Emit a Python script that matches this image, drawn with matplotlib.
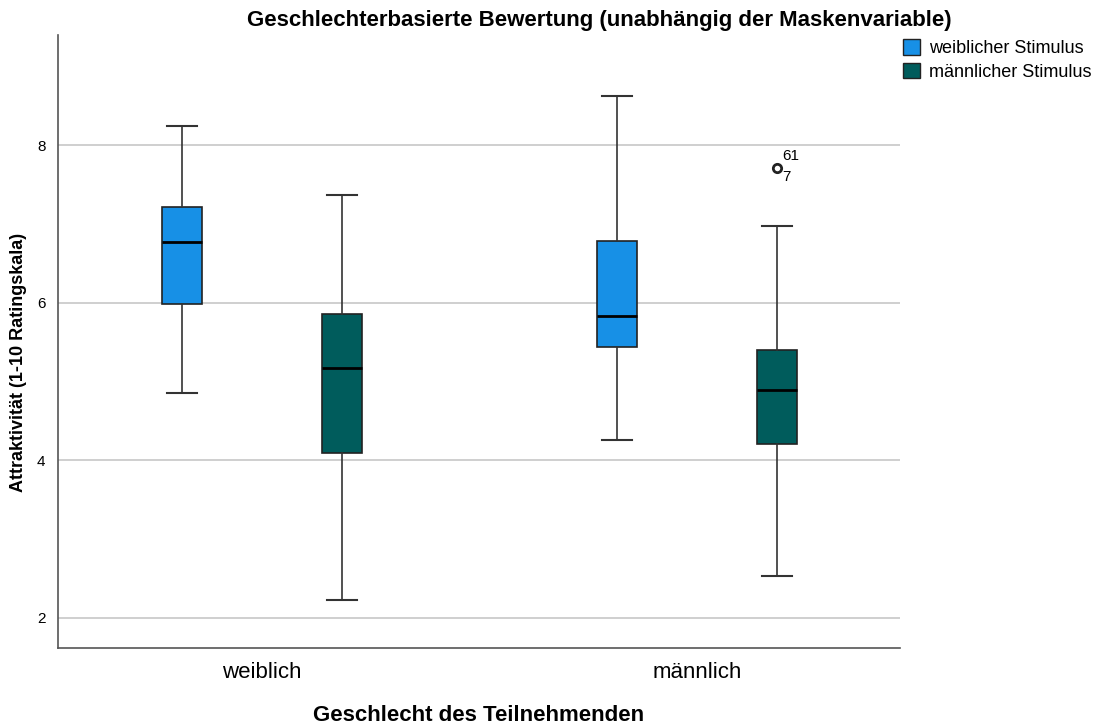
import matplotlib.pyplot as plt
from matplotlib.patches import Patch

# Participant gender groups and stimulus gender
groups = ["weiblich", "männlich"]
stimuli = ["weiblicher Stimulus", "männlicher Stimulus"]
colors = ["#1790e6", "#005c5c"]

# Box statistics per group, ordered [weiblicher, männlicher]
medians = [[6.77, 5.17], [5.83, 4.89]]
q1 = [[5.99, 4.09], [5.44, 4.21]]
q3 = [[7.21, 5.86], [6.78, 5.40]]
whislo = [[4.85, 2.23], [4.26, 2.53]]
whishi = [[8.25, 7.37], [8.63, 6.98]]
fliers = [[[], []], [[], [7.71]]]
flier_ids = [[[], []], [[], ["61", "7"]]]

plt.rcParams['font.family'] = ['Liberation Sans', 'DejaVu Sans']

fig = plt.figure(figsize=(11.02, 7.28), dpi=100)
ax = fig.add_axes([0.0526, 0.11, 0.764, 0.842])

offset = 0.184
for g in range(len(groups)):
    for s in range(len(stimuli)):
        pos = g + 1 + (offset if s == 1 else -offset)
        stats = [{
            "med": medians[g][s], "q1": q1[g][s], "q3": q3[g][s],
            "whislo": whislo[g][s], "whishi": whishi[g][s],
            "fliers": fliers[g][s],
        }]
        ax.bxp(stats, positions=[pos], widths=0.092, patch_artist=True,
               boxprops=dict(facecolor=colors[s], edgecolor="#222222", linewidth=1.2),
               medianprops=dict(color="black", linewidth=2),
               whiskerprops=dict(color="#333333", linewidth=1.2),
               capprops=dict(color="#333333", linewidth=1.5),
               capwidths=0.07,
               flierprops=dict(marker="o", markerfacecolor="white",
                               markeredgecolor="#222222", markersize=6,
                               markeredgewidth=2),
               zorder=3)
        for v in fliers[g][s]:
            ids = flier_ids[g][s]
            ax.text(pos + 0.012, v + 0.07, ids[0], fontsize=11, va="bottom", ha="left")
            ax.text(pos + 0.012, v - 0.03, ids[1], fontsize=11, va="top", ha="left")

ax.set_xlim(0.531, 2.467)
ax.set_ylim(1.62, 9.40)
ax.set_yticks([2, 4, 6, 8])
ax.set_xticks([1, 2])
ax.set_xticklabels(groups)
ax.tick_params(axis="y", length=0, labelsize=11, pad=9)
ax.tick_params(axis="x", length=0, labelsize=16, pad=10)
ax.grid(axis="y", color="#cccccc", linewidth=1.3, zorder=0)
ax.set_axisbelow(True)
for side in ["top", "right"]:
    ax.spines[side].set_visible(False)
for side in ["left", "bottom"]:
    ax.spines[side].set_color("#555555")
    ax.spines[side].set_linewidth(1.2)

fig.text(0.544, 0.972, "Geschlechterbasierte Bewertung (unabhängig der Maskenvariable)",
         fontsize=16, fontweight="bold", ha="center", va="center")
ax.set_xlabel("Geschlecht des Teilnehmenden", fontsize=16, fontweight="bold", labelpad=16)
ax.set_ylabel("Attraktivität (1-10 Ratingskala)", fontsize=13, fontweight="bold")
ax.yaxis.set_label_coords(-0.037, 0.465)

handles = [Patch(facecolor=c, edgecolor="#222222", label=l) for c, l in zip(colors, stimuli)]
fig.legend(handles=handles, loc="upper left", bbox_to_anchor=(0.819, 0.946),
           frameon=False, fontsize=13, handlelength=0.95, handleheight=0.95,
           handletextpad=0.5, labelspacing=0.3, borderpad=0, borderaxespad=0)

fig.savefig("out.png", dpi=100)
